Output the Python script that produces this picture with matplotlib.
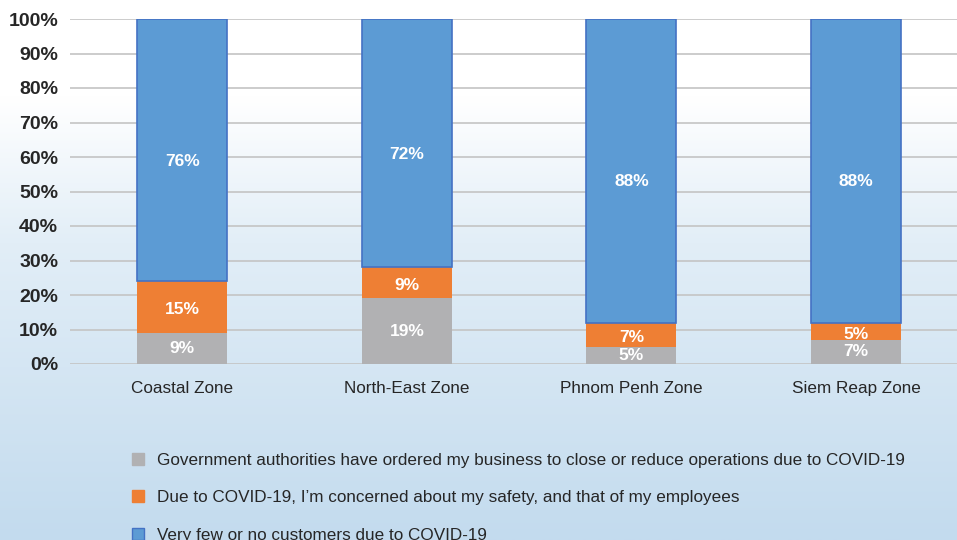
import numpy as np
import matplotlib.pyplot as plt
from matplotlib.patches import Patch
from matplotlib.colors import LinearSegmentedColormap

plt.rcParams['font.family'] = ['Liberation Sans', 'DejaVu Sans']

# Données
zones = ['Coastal Zone', 'North-East Zone', 'Phnom Penh Zone', 'Siem Reap Zone']
government = [9, 19, 5, 7]
safety = [15, 9, 7, 5]
customers = [76, 72, 88, 88]
series_labels = [
    'Government authorities have ordered my business to close or reduce operations due to COVID-19',
    'Due to COVID-19, I\u2019m concerned about my safety, and that of my employees',
    'Very few or no customers due to COVID-19',
]
y_ticks = [0, 10, 20, 30, 40, 50, 60, 70, 80, 90, 100]

c_gray = '#b1b1b3'
c_orange = '#ee7f34'
c_blue = '#5c9bd4'
c_blue_edge = '#4472c4'
c_text = '#262626'

fig = plt.figure(figsize=(9.57, 5.40), dpi=100)

# fond en dégradé (blanc -> bleu clair)
bg = fig.add_axes([0, 0, 1, 1], zorder=-10)
cmap = LinearSegmentedColormap.from_list('bg', [(0, '#c3dbee'), (0.55, '#e2eef7'), (0.82, '#ffffff'), (1, '#ffffff')])
grad = np.linspace(0, 1, 256).reshape(-1, 1)
bg.imshow(grad, aspect='auto', cmap=cmap, origin='lower', extent=[0, 1, 0, 1])
bg.axis('off')

ax = fig.add_axes([70 / 957, (540 - 364) / 540, 887 / 957, 345 / 540])
ax.patch.set_alpha(0)

x = np.arange(len(zones))
w = 0.4
g = np.array(government)
s = np.array(safety)
c = np.array(customers)

b1 = ax.bar(x, g, w, color=c_gray, zorder=3)
b2 = ax.bar(x, s, w, bottom=g, color=c_orange, zorder=3)
b3 = ax.bar(x, c, w, bottom=g + s, color=c_blue, edgecolor=c_blue_edge, linewidth=1.2, zorder=3)

for bars, vals, bottoms, dy in [(b1, g, 0 * g, 0), (b2, s, g, -2), (b3, c, g + s, -8)]:
    for xi, v, b in zip(x, vals, bottoms):
        ax.annotate(f'{v}%', (xi, b + v / 2), xytext=(0, dy), textcoords='offset points',
                    ha='center', va='center', color='white', fontsize=12.5, fontweight='bold', zorder=5)

ax.set_xlim(-0.5, 3.45)
ax.set_ylim(0, 100)
ax.set_yticks(y_ticks)
ax.set_yticklabels([f'{t}%' for t in y_ticks], fontsize=14, fontweight='bold', color=c_text)
ax.set_xticks(x)
ax.set_xticklabels(zones, fontsize=12.3, color=c_text)
ax.tick_params(axis='both', length=0)
ax.tick_params(axis='y', pad=8.5)
ax.tick_params(axis='x', pad=12)
ax.yaxis.grid(True, color='#c4c4c4', linewidth=1.2, zorder=0)
for sp in ax.spines.values():
    sp.set_visible(False)

handles = [Patch(facecolor=c_gray, edgecolor=c_gray),
           Patch(facecolor=c_orange, edgecolor=c_orange),
           Patch(facecolor=c_blue, edgecolor=c_blue_edge)]
fig.legend(handles, series_labels, loc='upper left', bbox_to_anchor=(132 / 957, 1 - 453 / 540),
           frameon=False, fontsize=12.3, handlelength=0.72, handleheight=0.72, handletextpad=0.75,
           labelspacing=1.3, borderpad=0, borderaxespad=0, labelcolor=c_text)

plt.savefig('out.png', dpi=100)
